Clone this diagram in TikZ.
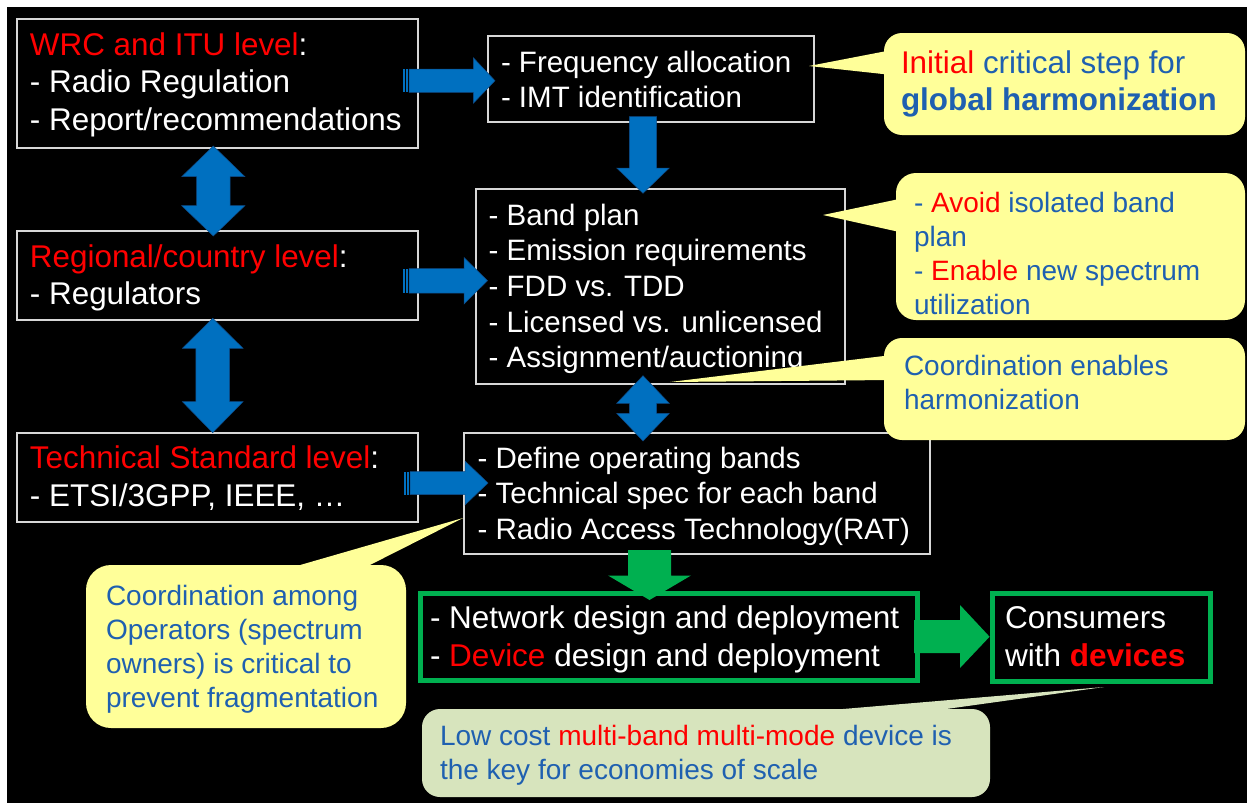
\documentclass[tikz,border=0pt]{standalone}
\usepackage{fontspec}
\setmainfont{Liberation Sans}
\usetikzlibrary{calc}
\definecolor{arrblue}{RGB}{0,112,192}
\definecolor{arredge}{RGB}{15,75,135}
\definecolor{boxline}{RGB}{215,215,215}
\definecolor{callyel}{RGB}{255,255,153}
\definecolor{callgrn}{RGB}{215,228,189}
\definecolor{txtblue}{RGB}{31,96,176}
\definecolor{grn}{RGB}{0,176,80}
\definecolor{myred}{RGB}{255,0,0}
\tikzset{
  box/.style={draw=boxline, line width=1.2pt, anchor=north west, inner sep=0pt, outer sep=0pt},
  gbox/.style={draw=grn, line width=5pt, anchor=north west, inner sep=0pt, outer sep=0pt},
  callbox/.style={anchor=north west, inner sep=0pt, outer sep=0pt, rounded corners=#1},
  txt/.style={anchor=base west, inner sep=0pt, outer sep=0pt, align=left, text=white},
  ctxt/.style={anchor=base west, inner sep=0pt, outer sep=0pt, align=left, text=txtblue},
  fA/.style={font=\fontsize{31.4}{37.8}\selectfont},
  fB/.style={font=\fontsize{29.5}{35.7}\selectfont},
  fC/.style={font=\fontsize{28}{34}\selectfont},
  barrow/.style={fill=arrblue, draw=arredge, line width=0.5pt},
  garrow/.style={fill=grn},
}
\begin{document}
\begin{tikzpicture}[x=1pt,y=-1pt]
\useasboundingbox (0,0) rectangle (1254,803);
\fill[white] (0,0) rectangle (1254,803);
\fill[black] (7,7) rectangle (1247,803);

% ---- boxes ----
\node[box, minimum width=401pt, minimum height=129pt] (wrc) at (17,19) {};
\node[box, minimum width=401pt, minimum height=89pt] (reg) at (17,231) {};
\node[box, minimum width=401pt, minimum height=89pt] (tech) at (17,433) {};
\node[box, minimum width=326pt, minimum height=86pt] (freq) at (488,36) {};
\node[box, minimum width=369pt, minimum height=195pt] (band) at (476,189) {};
\node[box, minimum width=466pt, minimum height=121pt] (def) at (464,433) {};
\node[gbox, minimum width=497pt, minimum height=87pt] (net) at (420.5,593.5) {};
\node[gbox, minimum width=218pt, minimum height=88pt] (cons) at (992.5,593.5) {};

% ---- box texts (anchor = baseline of last line) ----
\node[txt, fA] (wrct) at (30,130.6) {{\color{myred}WRC and ITU level}:\\- Radio Regulation\\- Report/recommendations};
\node[txt, fA] (regt) at (30,304.8) {{\color{myred}Regional/country level}:\\- Regulators};
\node[txt, fA] (techt) at (30,506.8) {{\color{myred}Technical Standard level}:\\[1pt]- ETSI/3GPP, IEEE, …};
\node[txt, fB] (freqt) at (501,107.7) {- Frequency allocation\\- IMT identification};
\node[txt, fB] (bandt) at (488.7,367.8) {- Band plan\\- Emission requirements\\- FDD vs. TDD\\- Licensed vs. unlicensed\\- Assignment/auctioning};
\node[txt, fB] (deft) at (477.6,539.4) {- Define operating bands\\- Technical spec for each band\\- Radio Access Technology(RAT)};
\node[txt, font=\fontsize{31.5}{38.5}\selectfont] (nett) at (430,666.5) {- Network design and deployment\\- {\color{myred}Device} design and deployment};
\node[txt, font=\fontsize{31.5}{38.5}\selectfont] (const) at (1005,666.5) {Consumers\\with {\color{myred}\bfseries devices}};

% ---- blue arrows ----
\fill[arrblue] (403,69) rectangle (404.7,92.3);
\fill[arrblue] (406,69) rectangle (407.7,92.3);
\filldraw[barrow] (409,69) -- (473.3,69) -- (473.3,57.7) -- (495,80.7) -- (473.3,103.3) -- (473.3,92.3) -- (409,92.3) -- cycle;

\fill[arrblue] (403,268.5) rectangle (404.7,293);
\fill[arrblue] (406,268.5) rectangle (407.7,293);
\filldraw[barrow] (409,268.5) -- (464,268.5) -- (464,257.5) -- (487.5,280.7) -- (464,304) -- (464,293) -- (409,293) -- cycle;

\fill[arrblue] (404,471.5) rectangle (405.7,494.5);
\fill[arrblue] (407,471.5) rectangle (408.7,494.5);
\filldraw[barrow] (410,471.5) -- (465,471.5) -- (465,461) -- (488,483) -- (465,505) -- (465,494.5) -- (410,494.5) -- cycle;

\filldraw[barrow] (629.3,116.7) -- (656.7,116.7) -- (656.7,168) -- (669.3,168) -- (643,193.3) -- (616.7,168) -- (629.3,168) -- cycle;

\filldraw[barrow] (213.3,146) -- (244.9,176.7) -- (230,176.7) -- (230,205.7) -- (244.9,205.7) -- (213.3,236) -- (181.7,205.7) -- (196.6,205.7) -- (196.6,176.7) -- (181.7,176.7) -- cycle;
\filldraw[barrow] (212.7,318.3) -- (243,348.3) -- (229.5,348.3) -- (229.5,401.7) -- (243,401.7) -- (212.7,432.7) -- (182.4,401.7) -- (195.9,401.7) -- (195.9,348.3) -- (182.4,348.3) -- cycle;
\filldraw[barrow] (643,375.7) -- (669.3,403.3) -- (656.7,403.3) -- (656.7,413.3) -- (669.3,413.3) -- (643,441) -- (616.7,413.3) -- (629.3,413.3) -- (629.3,403.3) -- (616.7,403.3) -- cycle;

% ---- green arrows ----
\fill[garrow] (628,550) -- (671,550) -- (671,575.5) -- (691,575.5) -- (649.5,600) -- (608,575.5) -- (628,575.5) -- cycle;
\fill[garrow] (914,620) -- (960,620) -- (960,605) -- (989.6,636.7) -- (960,668) -- (960,653) -- (914,653) -- cycle;

% ---- callouts ----
\node[callbox=18pt, fill=callyel, minimum width=361pt, minimum height=102pt] (c1) at (884,33) {};
\fill[callyel] (892,50) -- (809,66) -- (892,75) -- cycle;
\node[ctxt, font=\fontsize{31.4}{37}\selectfont] (c1t) at (901,110) {{\color{myred}Initial} critical step for\\\textbf{global harmonization}};

\node[callbox=20pt, fill=callyel, minimum width=349pt, minimum height=147pt] (c2) at (896,173) {};
\fill[callyel] (904,198) -- (823,215) -- (904,233) -- cycle;
\node[ctxt, fC] (c2t) at (914,314) {- {\color{myred}Avoid} isolated band\\plan\\- {\color{myred}Enable} new spectrum\\utilization};

\node[callbox=18pt, fill=callyel, minimum width=361pt, minimum height=102pt] (c3) at (884,338) {};
\fill[callyel] (892,355) -- (670,382) -- (892,380) -- cycle;
\node[ctxt, fC] (c3t) at (904,409) {Coordination enables\\harmonization};

\node[callbox=25pt, fill=callyel, minimum width=320pt, minimum height=163pt] (c4) at (86,565) {};
\fill[callyel] (276,572) -- (463,518) -- (356,572) -- cycle;
\node[ctxt, font=\fontsize{28}{33.7}\selectfont] (c4t) at (106,707) {Coordination among\\Operators (spectrum\\owners) is critical to\\prevent fragmentation};

\node[callbox=18pt, fill=callgrn, minimum width=568pt, minimum height=88pt] (c5) at (422,709) {};
\fill[callgrn] (760,716) -- (1104,687) -- (896,716) -- cycle;
\node[ctxt, fC] (c5t) at (440,779) {Low cost {\color{myred}multi-band multi-mode} device is\\the key for economies of scale};
\end{tikzpicture}
\end{document}
